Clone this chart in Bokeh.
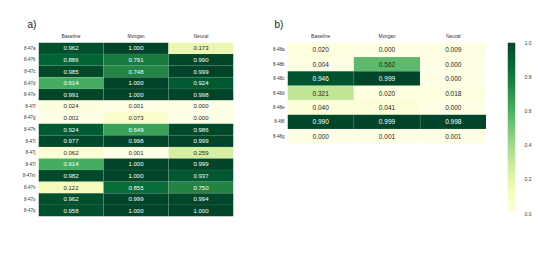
import numpy as np
from bokeh.plotting import figure
from bokeh.layouts import row
from bokeh.models import LinearColorMapper, ColumnDataSource, Title, FixedTicker, CustomJSTickFormatter
from bokeh.palettes import YlGn9
from bokeh.embed import file_html
from bokeh.resources import INLINE

columns = ["Baseline", "Morgan", "Neural"]

rows_a = ["8-47a", "8-47b", "8-47c", "8-47d", "8-47e", "8-47f", "8-47g", "8-47h",
          "8-47i", "8-47j", "8-47l", "8-47m", "8-47n", "8-47o", "8-47p"]
baseline_a = [0.962, 0.886, 0.985, 0.614, 0.991, 0.024, 0.002, 0.924, 0.977, 0.062, 0.614, 0.982, 0.122, 0.962, 0.958]
morgan_a = [1.000, 0.791, 0.748, 1.000, 1.000, 0.001, 0.073, 0.649, 0.998, 0.001, 1.000, 1.000, 0.855, 0.999, 1.000]
neural_a = [0.173, 0.990, 0.999, 0.924, 0.998, 0.000, 0.000, 0.986, 0.999, 0.259, 0.999, 0.937, 0.750, 0.994, 1.000]

rows_b = ["8-48a", "8-48b", "8-48c", "8-48d", "8-48e", "8-48f", "8-48g"]
baseline_b = [0.020, 0.004, 0.946, 0.321, 0.040, 0.990, 0.000]
morgan_b = [0.000, 0.562, 0.999, 0.020, 0.041, 0.999, 0.001]
neural_b = [0.009, 0.000, 0.000, 0.018, 0.000, 0.998, 0.001]

cbar_ticks = [0.0, 0.2, 0.4, 0.6, 0.8, 1.0]

# interpolate YlGn palette (light -> dark) to 256 colours
base = list(reversed(YlGn9))
def hex2rgb(h):
    return np.array([int(h[i:i + 2], 16) for i in (1, 3, 5)], dtype=float)
rgbs = np.array([hex2rgb(c) for c in base])
pos = np.linspace(0, 1, len(base))
t = np.linspace(0, 1, 256)
palette = []
for v in t:
    r = [np.interp(v, pos, rgbs[:, k]) for k in range(3)]
    palette.append("#%02x%02x%02x" % tuple(int(round(c)) for c in r))

mapper = LinearColorMapper(palette=palette, low=0.0, high=1.0)
FONT = "Liberation Sans"


def heat(rows, series, label, fw, fh, bl, br, bt, bb, vsize, title_off):
    xs, ys, vals, txt, tcol = [], [], [], [], []
    for c, s in zip(columns, series):
        for r, v in zip(rows, s):
            xs.append(c)
            ys.append(r)
            vals.append(v)
            txt.append("%.3f" % v)
            tcol.append("white" if v > 0.6 else "#262626")
    src = ColumnDataSource(dict(x=xs, y=ys, v=vals, t=txt, tc=tcol))
    p = figure(x_range=columns, y_range=list(reversed(rows)), frame_width=fw, frame_height=fh,
               x_axis_location="above", output_backend="svg", toolbar_location=None,
               min_border_left=bl, min_border_right=br, min_border_top=bt, min_border_bottom=bb)
    p.rect(x="x", y="y", width=1, height=1, source=src,
           fill_color={"field": "v", "transform": mapper},
           line_color="white", line_alpha=0.15, line_width=0.5)
    p.text(x="x", y="y", text="t", source=src, text_color="tc",
           text_align="center", text_baseline="middle",
           text_font_size=vsize, text_font={"value": FONT})
    p.outline_line_color = None
    p.grid.grid_line_color = None
    for ax in (p.xaxis[0], p.yaxis[0]):
        ax.axis_line_color = None
        ax.major_tick_line_color = None
        ax.minor_tick_line_color = None
        ax.major_tick_out = 0
        ax.major_tick_in = 0
        ax.major_label_text_font = FONT
        ax.major_label_text_color = "#333333"
    p.xaxis.major_label_text_font_size = "5px"
    p.xaxis.major_label_standoff = 4
    p.yaxis.major_label_text_font_size = "4.5px"
    p.yaxis.major_label_standoff = 3
    p.add_layout(Title(text=label, align="left", offset=title_off, text_font_size="10px",
                       text_font=FONT, text_font_style="normal", text_color="#222222",
                       standoff=0), "above")
    return p


pa = heat(rows_a, [baseline_a, morgan_a, neural_a], "a)", 195, 174, 38, 7, 38, 28, "6px", -11)
pb = heat(rows_b, [baseline_b, morgan_b, neural_b], "b)", 199, 101, 47, 0, 42, 97, "6.5px", -13)

pc = figure(x_range=(0, 1), y_range=(0, 1), frame_width=8, frame_height=171,
            y_axis_location="right", output_backend="svg", toolbar_location=None,
            min_border_left=21, min_border_right=14, min_border_top=42, min_border_bottom=27)
pc.image(image=[np.linspace(0, 1, 256).reshape(-1, 1)], x=0, y=0, dw=1, dh=1, color_mapper=mapper)
pc.xaxis.visible = False
pc.grid.grid_line_color = None
pc.outline_line_color = None
pc.yaxis.ticker = FixedTicker(ticks=cbar_ticks)
pc.yaxis.formatter = CustomJSTickFormatter(code="return tick.toFixed(1);")
pc.yaxis.axis_line_color = None
pc.yaxis.major_tick_line_color = None
pc.yaxis.minor_tick_line_color = None
pc.yaxis.major_label_text_font_size = "5px"
pc.yaxis.major_label_text_font = FONT
pc.yaxis.major_label_text_color = "#333333"
pc.yaxis.major_label_standoff = 3

layout = row(pa, pb, pc)
open("out.html", "w").write(file_html(layout, INLINE))
